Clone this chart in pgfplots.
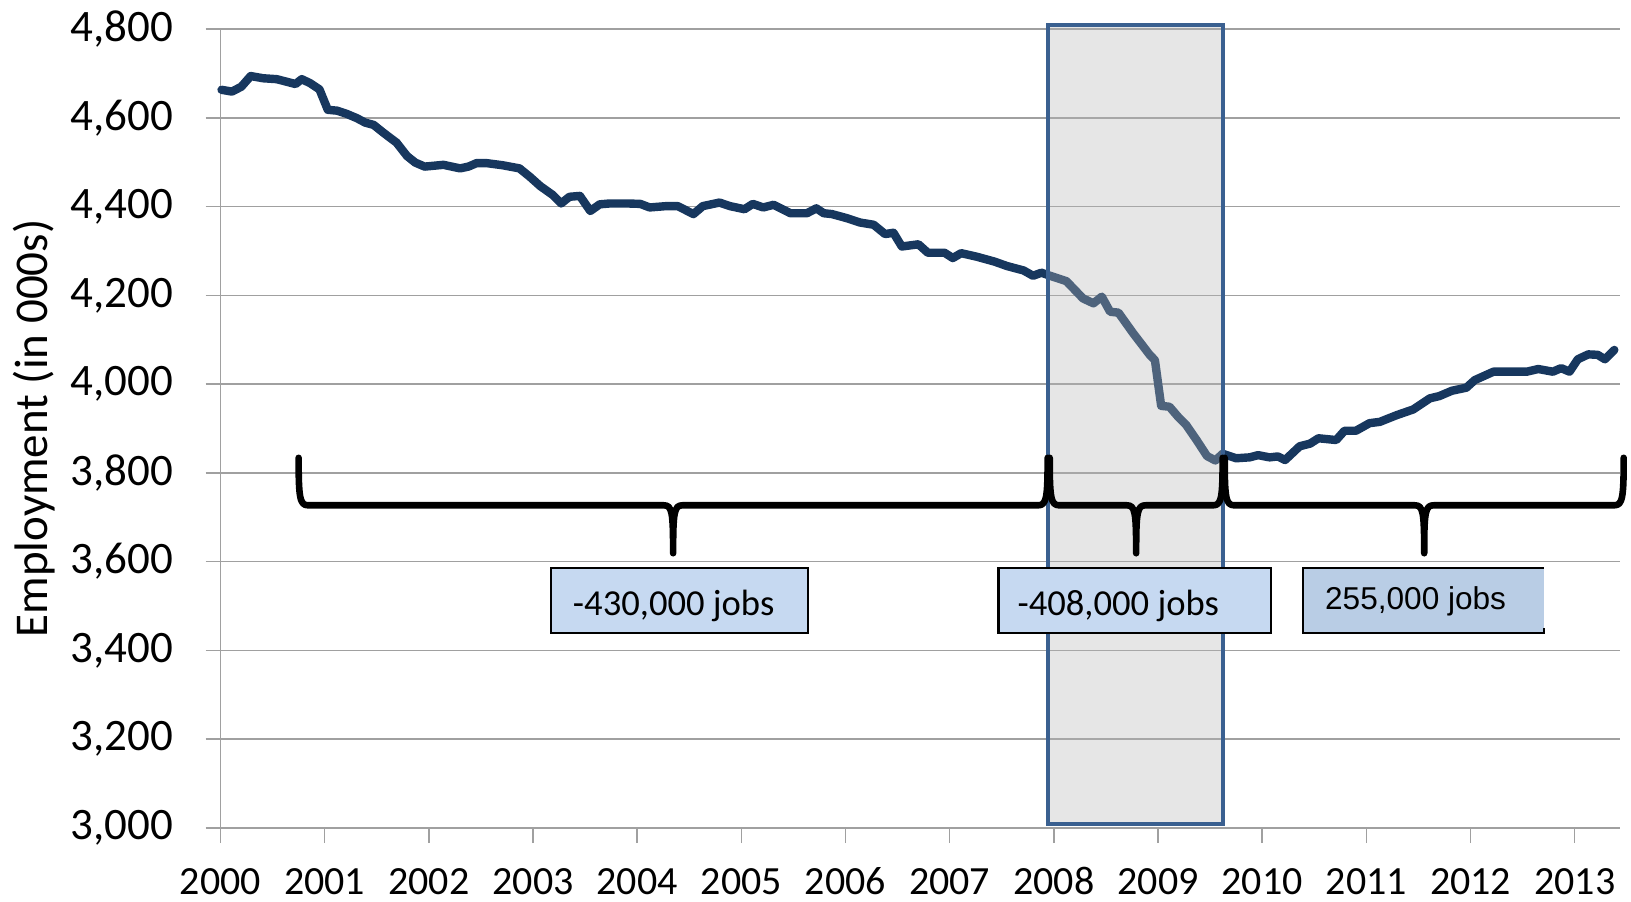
\documentclass[border=0pt]{standalone}
\usepackage{fontspec}
\setmainfont{Carlito}
\newfontfamily\arialfont{Liberation Sans}
\usepackage{pgfplots}
\usepackage{pgfplotstable}
\pgfplotsset{compat=1.18}
\definecolor{navy}{HTML}{17375E}
\definecolor{gridgray}{HTML}{A0A0A0}
\definecolor{rectborder}{HTML}{3A6090}
\definecolor{boxblue}{HTML}{C6D9F1}
\definecolor{boxbluetwo}{HTML}{B9CDE5}
\definecolor{overlaygray}{RGB}{182,182,182}

\pgfplotstableread{
x y
2000.01 4663
2000.11 4659
2000.20 4670
2000.29 4694
2000.41 4689
2000.54 4687
2000.72 4676
2000.78 4687
2000.86 4678
2000.95 4664
2001.03 4618
2001.12 4616
2001.21 4609
2001.31 4599
2001.39 4589
2001.47 4584
2001.56 4567
2001.69 4544
2001.79 4514
2001.87 4499
2001.96 4490
2002.14 4494
2002.30 4486
2002.38 4490
2002.46 4498
2002.55 4498
2002.71 4493
2002.87 4486
2002.97 4467
2003.07 4446
2003.19 4426
2003.27 4407
2003.35 4422
2003.45 4424
2003.55 4390
2003.64 4405
2003.74 4407
2003.90 4407
2004.03 4406
2004.12 4398
2004.28 4401
2004.39 4401
2004.54 4383
2004.63 4401
2004.79 4409
2004.89 4401
2005.03 4394
2005.11 4406
2005.21 4398
2005.31 4404
2005.47 4385
2005.63 4385
2005.72 4396
2005.79 4385
2005.87 4383
2006.01 4374
2006.14 4364
2006.27 4359
2006.38 4338
2006.46 4341
2006.54 4310
2006.70 4315
2006.79 4296
2006.95 4296
2007.03 4284
2007.11 4295
2007.26 4287
2007.43 4276
2007.55 4266
2007.71 4256
2007.80 4244
2007.88 4251
2007.99 4242
2008.12 4232
2008.28 4193
2008.38 4182
2008.46 4197
2008.54 4163
2008.62 4161
2008.76 4115
2008.92 4066
2008.97 4054
2009.03 3951
2009.11 3949
2009.19 3927
2009.27 3908
2009.37 3874
2009.47 3838
2009.55 3828
2009.62 3843
2009.75 3833
2009.88 3835
2009.96 3840
2010.07 3835
2010.15 3837
2010.22 3829
2010.36 3860
2010.46 3866
2010.54 3878
2010.71 3874
2010.79 3895
2010.90 3895
2011.03 3912
2011.13 3915
2011.29 3930
2011.45 3943
2011.61 3968
2011.70 3973
2011.82 3985
2011.96 3992
2012.04 4009
2012.22 4028
2012.54 4028
2012.65 4034
2012.79 4028
2012.87 4036
2012.95 4028
2013.03 4056
2013.13 4067
2013.22 4066
2013.29 4056
2013.38 4077
}\employment

\begin{document}
\begin{tikzpicture}
\useasboundingbox (-110.25pt,-36.5pt) rectangle (705.25pt,414pt);
\begin{axis}[
  at={(0,0)}, anchor=south west,
  scale only axis, width=699.5pt, height=399.5pt,
  xmin=2000, xmax=2013.43, ymin=3000, ymax=4800,
  clip=false,
  axis x line*=bottom, axis y line*=left,
  axis line style={gridgray, line width=0.75pt, -},
  xtick={2000,2001,...,2013}, ytick={3000,3200,...,4800},
  ymajorgrids, grid style={gridgray, line width=0.75pt},
  tick align=outside, major tick length=7.5pt,
  tick style={gridgray, line width=0.75pt},
  /pgf/number format/assume math mode=true,
  tick label style={black, inner sep=0pt},
  xticklabel style={anchor=base, yshift=-25.5pt, font=\fontsize{20}{24}\selectfont, /pgf/number format/1000 sep={}},
  yticklabel style={anchor=east, xshift=-16pt, font=\fontsize{22.5}{26}\selectfont, /pgf/number format/1000 sep={,}},
  ylabel={Employment (in 000s)},
  every axis y label/.style={at={(axis description cs:0,0.5)}, rotate=90, anchor=north, inner sep=0pt, yshift=104pt, font=\fontsize{23.5}{28}\selectfont},
]
\addplot[navy, line width=4.2pt, line join=round, line cap=round] table[x=x, y=y] {\employment};

% recession shading
\fill[overlaygray, fill opacity=0.35] (axis cs:2007.94,3010) rectangle (axis cs:2009.62,4810);
\draw[rectborder, line width=2pt] (axis cs:2007.94,3010) rectangle (axis cs:2009.62,4810);

% braces
\draw[black, line width=3.3pt, line cap=round, line join=round]
 (axis cs:2000.75,3834) .. controls (axis cs:2000.75,3745) and (axis cs:2000.76,3727) .. (axis cs:2000.84,3727)
 -- (axis cs:2004.255,3727) .. controls (axis cs:2004.335,3727) and (axis cs:2004.345,3712) .. (axis cs:2004.345,3619)
 .. controls (axis cs:2004.345,3712) and (axis cs:2004.355,3727) .. (axis cs:2004.435,3727)
 -- (axis cs:2007.85,3727) .. controls (axis cs:2007.93,3727) and (axis cs:2007.94,3745) .. (axis cs:2007.94,3834);
\draw[black, line width=3.3pt, line cap=round, line join=round]
 (axis cs:2007.96,3834) .. controls (axis cs:2007.96,3745) and (axis cs:2007.97,3727) .. (axis cs:2008.05,3727)
 -- (axis cs:2008.70,3727) .. controls (axis cs:2008.78,3727) and (axis cs:2008.79,3712) .. (axis cs:2008.79,3619)
 .. controls (axis cs:2008.79,3712) and (axis cs:2008.80,3727) .. (axis cs:2008.88,3727)
 -- (axis cs:2009.53,3727) .. controls (axis cs:2009.61,3727) and (axis cs:2009.62,3745) .. (axis cs:2009.62,3834);
\draw[black, line width=3.3pt, line cap=round, line join=round]
 (axis cs:2009.64,3834) .. controls (axis cs:2009.64,3745) and (axis cs:2009.65,3727) .. (axis cs:2009.73,3727)
 -- (axis cs:2011.465,3727) .. controls (axis cs:2011.545,3727) and (axis cs:2011.555,3712) .. (axis cs:2011.555,3619)
 .. controls (axis cs:2011.555,3712) and (axis cs:2011.565,3727) .. (axis cs:2011.645,3727)
 -- (axis cs:2013.38,3727) .. controls (axis cs:2013.46,3727) and (axis cs:2013.47,3745) .. (axis cs:2013.47,3834);

% text boxes
\draw[black, line width=1.1pt, fill=boxblue] (axis cs:2003.17,3439) rectangle (axis cs:2005.64,3586);
\node[anchor=base west, inner sep=0pt, font=\fontsize{18.3}{22}\selectfont] at (axis cs:2003.38,3478) {-430,000 jobs};
\draw[black, line width=1.1pt, fill=boxblue] (axis cs:2007.468,3439) rectangle (axis cs:2010.085,3586);
\node[anchor=base west, inner sep=0pt, font=\fontsize{18.3}{22}\selectfont] at (axis cs:2007.648,3478) {-408,000 jobs};
\fill[boxbluetwo] (axis cs:2010.392,3439) rectangle (axis cs:2012.705,3586);
\draw[black, line width=1.1pt] (axis cs:2012.705,3450) -- (axis cs:2012.705,3439) -- (axis cs:2010.392,3439) -- (axis cs:2010.392,3586) -- (axis cs:2012.705,3586);
\node[anchor=base west, inner sep=0pt, font=\arialfont\fontsize{15.8}{19}\selectfont] at (axis cs:2010.60,3493) {255,000 jobs};
\end{axis}
\end{tikzpicture}
\end{document}
